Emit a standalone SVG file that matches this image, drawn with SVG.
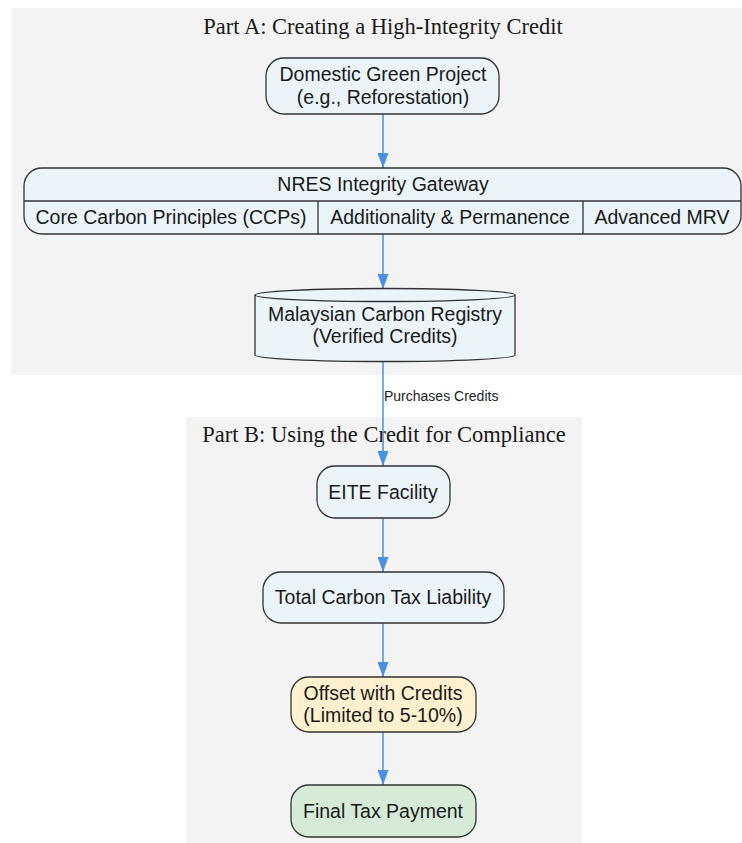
<svg xmlns="http://www.w3.org/2000/svg" width="742" height="843" viewBox="0 0 742 843">
  <defs>
    <marker id="arrow" markerWidth="15" markerHeight="11" refX="15" refY="5.5" orient="auto" markerUnits="userSpaceOnUse">
      <path d="M0,0 L15,5.5 L0,11 Z" fill="#4a90e2"/>
    </marker>
    <style>
      .cluster { fill: #f3f3f3; stroke: none; }
      .ctitle { font-family: "Liberation Serif", "Times New Roman", serif; font-size: 22.5px; fill: #1a1a1a; text-anchor: middle; }
      .node { fill: #eaf4f9; stroke: #333333; stroke-width: 1.3; }
      .offset { fill: #fff1cf; }
      .final { fill: #d6ead8; }
      .lbl { font-family: "Liberation Sans", Arial, sans-serif; font-size: 19.5px; fill: #1a1a1a; text-anchor: middle; dominant-baseline: central; }
      .edge { stroke: #4a90e2; stroke-width: 1.5; fill: none; marker-end: url(#arrow); }
      .elabel { font-family: "Liberation Sans", Arial, sans-serif; font-size: 14px; fill: #222222; }
    </style>
  </defs>

  <rect width="742" height="843" fill="#ffffff"/>

  <!-- Part A cluster -->
  <g id="cluster_a">
    <rect class="cluster" x="11" y="8" width="731" height="367"/>
    <text class="ctitle" x="383" y="34">Part A: Creating a High-Integrity Credit</text>
  </g>

  <!-- Part B cluster -->
  <g id="cluster_b">
    <rect class="cluster" x="186" y="417" width="396" height="426"/>
    <text class="ctitle" x="384" y="442">Part B: Using the Credit for Compliance</text>
  </g>

  <!-- Connectors -->
  <g id="edges">
    <line class="edge" x1="383" y1="114" x2="383" y2="168"/>
    <line class="edge" x1="383" y1="234" x2="383" y2="289"/>
    <line class="edge" x1="383" y1="362" x2="383" y2="466"/>
    <text class="elabel" x="384" y="401">Purchases Credits</text>
    <line class="edge" x1="383" y1="518" x2="383" y2="572"/>
    <line class="edge" x1="383" y1="623" x2="383" y2="677"/>
    <line class="edge" x1="383" y1="732" x2="383" y2="785"/>
  </g>

  <!-- Nodes -->
  <g id="project">
    <rect class="node" x="266" y="58" width="233" height="56" rx="18"/>
    <text class="lbl" x="383" y="74">Domestic Green Project</text>
    <text class="lbl" x="383" y="97">(e.g., Reforestation)</text>
  </g>

  <g id="gateway">
    <rect class="node" x="24" y="168" width="717" height="66" rx="18"/>
    <line x1="24" y1="201" x2="741" y2="201" stroke="#333333" stroke-width="1.3"/>
    <line x1="318" y1="201" x2="318" y2="234" stroke="#333333" stroke-width="1.3"/>
    <line x1="583" y1="201" x2="583" y2="234" stroke="#333333" stroke-width="1.3"/>
    <text class="lbl" x="383" y="184">NRES Integrity Gateway</text>
    <text class="lbl" x="171" y="217">Core Carbon Principles (CCPs)</text>
    <text class="lbl" x="450" y="217">Additionality &amp; Permanence</text>
    <text class="lbl" x="662" y="217">Advanced MRV</text>
  </g>

  <g id="registry">
    <path class="node" d="M255,295 A130,6.5 0 0 1 515,295 L515,355 A130,6.5 0 0 1 255,355 Z"/>
    <path d="M255,295 A130,6.5 0 0 0 515,295" fill="none" stroke="#333333" stroke-width="1.3"/>
    <text class="lbl" x="385" y="314">Malaysian Carbon Registry</text>
    <text class="lbl" x="385" y="336">(Verified Credits)</text>
  </g>

  <g id="facility">
    <rect class="node" x="317" y="466" width="133" height="52" rx="18"/>
    <text class="lbl" x="383" y="492">EITE Facility</text>
  </g>

  <g id="liability">
    <rect class="node" x="263" y="572" width="241" height="51" rx="18"/>
    <text class="lbl" x="383" y="597">Total Carbon Tax Liability</text>
  </g>

  <g id="offset">
    <rect class="node offset" x="291" y="677" width="185" height="55" rx="18"/>
    <text class="lbl" x="383" y="693">Offset with Credits</text>
    <text class="lbl" x="383" y="715">(Limited to 5-10%)</text>
  </g>

  <g id="payment">
    <rect class="node final" x="291" y="785" width="185" height="52" rx="18"/>
    <text class="lbl" x="383" y="811">Final Tax Payment</text>
  </g>
</svg>
